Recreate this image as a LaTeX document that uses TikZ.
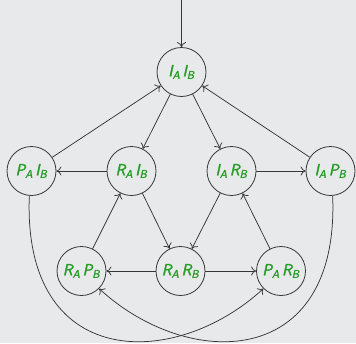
\documentclass[tikz,border=0pt]{standalone}
\usepackage{fontspec}
\usetikzlibrary{arrows.meta}
\setsansfont{Latin Modern Sans}[FakeBold=2]
\definecolor{bgc}{RGB}{232,233,235}
\definecolor{linec}{RGB}{55,55,58}
\definecolor{txtc}{RGB}{38,158,38}
\newcommand\lbl[4]{{\sffamily\itshape\addfontfeature{FakeBold=2}#1\textsubscript{#2}\hspace{2.4pt}#3\textsubscript{#4}}}
\begin{document}
\begin{tikzpicture}[x=1pt,y=-1pt,
  st/.style={circle,draw=linec,line width=0.8pt,minimum size=49pt,inner sep=0pt,
    text=txtc,font=\fontsize{16}{19}\selectfont},
  ed/.style={-{To[length=5pt,width=9pt]},draw=linec,line width=0.75pt}]
\fill[bgc] (0,0) rectangle (356,343);
\useasboundingbox (0,0) rectangle (356,343);
\node[st] (II) at (181.5,72) {\lbl{I}{A}{I}{B}};
\node[st] (PI) at (31.5,171) {\lbl{P}{A}{I}{B}};
\node[st] (RI) at (131.5,171) {\lbl{R}{A}{I}{B}};
\node[st] (IR) at (231.5,171) {\lbl{I}{A}{R}{B}};
\node[st] (IP) at (330.5,171) {\lbl{I}{A}{P}{B}};
\node[st] (RP) at (81.5,271) {\lbl{R}{A}{P}{B}};
\node[st] (RR) at (180.5,271) {\lbl{R}{A}{R}{B}};
\node[st] (PR) at (281,271) {\lbl{P}{A}{R}{B}};
\coordinate (start) at (181.5,0);
\draw[ed] (start) -- (II);
\draw[ed] (PI) -- (II);
\draw[ed] (IP) -- (II);
\draw[ed] (II) -- (RI);
\draw[ed] (II) -- (IR);
\draw[ed] (RI) -- (PI);
\draw[ed] (IR) -- (IP);
\draw[ed] (RI) -- (RR);
\draw[ed] (IR) -- (RR);
\draw[ed] (RP) -- (RI);
\draw[ed] (PR) -- (IR);
\draw[ed] (RR) -- (RP);
\draw[ed] (RR) -- (PR);
\draw[ed] (PI.-95) .. controls +(-7,175) and +(-88.7,81.7) .. (PR.-135);
\draw[ed] (IP.-85) .. controls +(7,175) and +(88.7,81.7) .. (RP.-45);
\end{tikzpicture}
\end{document}
